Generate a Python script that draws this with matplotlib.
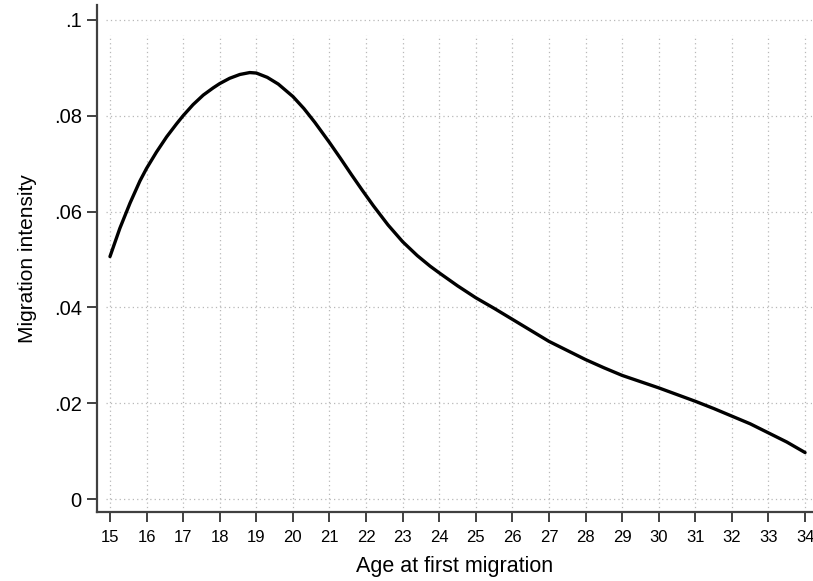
import numpy as np
import matplotlib.pyplot as plt

plt.rcParams['font.family'] = ['Liberation Sans', 'DejaVu Sans']

# fitted migration intensity by age at first migration
age = [15, 15.27, 15.55, 15.82, 16, 16.27, 16.55, 16.82, 17, 17.27, 17.55,
       17.82, 18, 18.27, 18.55, 18.82, 19, 19.3, 19.6, 20, 20.3, 20.6, 21,
       21.3, 21.6, 21.9, 22.2, 22.6, 23, 23.4, 23.75, 24, 24.5, 25, 25.5, 26,
       26.5, 27, 27.5, 28, 28.5, 29, 29.5, 30, 30.5, 31, 31.5, 32, 32.5, 33,
       33.5, 34]
intensity = [0.0506, 0.0565, 0.0618, 0.0664, 0.0690, 0.0724, 0.0756, 0.0783,
             0.0800, 0.0823, 0.0843, 0.0858, 0.0867, 0.0878, 0.0886, 0.0890,
             0.0889, 0.0880, 0.0866, 0.0840, 0.0815, 0.0786, 0.0744, 0.0711,
             0.0677, 0.0644, 0.0612, 0.0572, 0.0537, 0.0508, 0.0486, 0.0472,
             0.0445, 0.0420, 0.0398, 0.0375, 0.0352, 0.0329, 0.0310, 0.0291,
             0.0274, 0.0258, 0.0245, 0.0232, 0.0218, 0.0204, 0.0189, 0.0173,
             0.0157, 0.0138, 0.0119, 0.0097]

xticks = list(range(15, 35))
yticks = [0, 0.02, 0.04, 0.06, 0.08, 0.1]
ylabels = ['0', '.02', '.04', '.06', '.08', '.1']

fig = plt.figure(figsize=(8.13, 5.81), dpi=100)
ax = fig.add_axes([0.1193, 0.1188, 0.8795, 0.8726])

# dotted grid
ax.vlines(xticks, -0.0027, 0.0968, colors='#b8b8b8', linestyles=(0, (1, 2.5)),
          linewidth=0.9, zorder=1)
ax.hlines(yticks, 14.9, 34.19, colors='#b8b8b8', linestyles=(0, (1, 2.5)),
          linewidth=0.9, zorder=1)

ax.plot(age, intensity, color='black', linewidth=2.4, zorder=3,
        solid_joinstyle='round', solid_capstyle='round')

ax.set_xlim(14.645, 34.19)
ax.set_ylim(-0.0027, 0.1031)
ax.set_xticks(xticks)
ax.set_yticks(yticks)
ax.set_yticklabels(ylabels)

for side in ['top', 'right']:
    ax.spines[side].set_visible(False)
for side in ['left', 'bottom']:
    ax.spines[side].set_color('#404040')
    ax.spines[side].set_linewidth(1.6)

ax.tick_params(axis='both', direction='out', length=7, width=1.4,
               color='#404040')
ax.tick_params(axis='x', labelsize=12, pad=6)
ax.tick_params(axis='y', labelsize=14.5, pad=4)

ax.set_xlabel('Age at first migration', fontsize=15.5, labelpad=8)
ax.set_ylabel('Migration intensity', fontsize=15, labelpad=12)

fig.savefig('out.png', dpi=100)
